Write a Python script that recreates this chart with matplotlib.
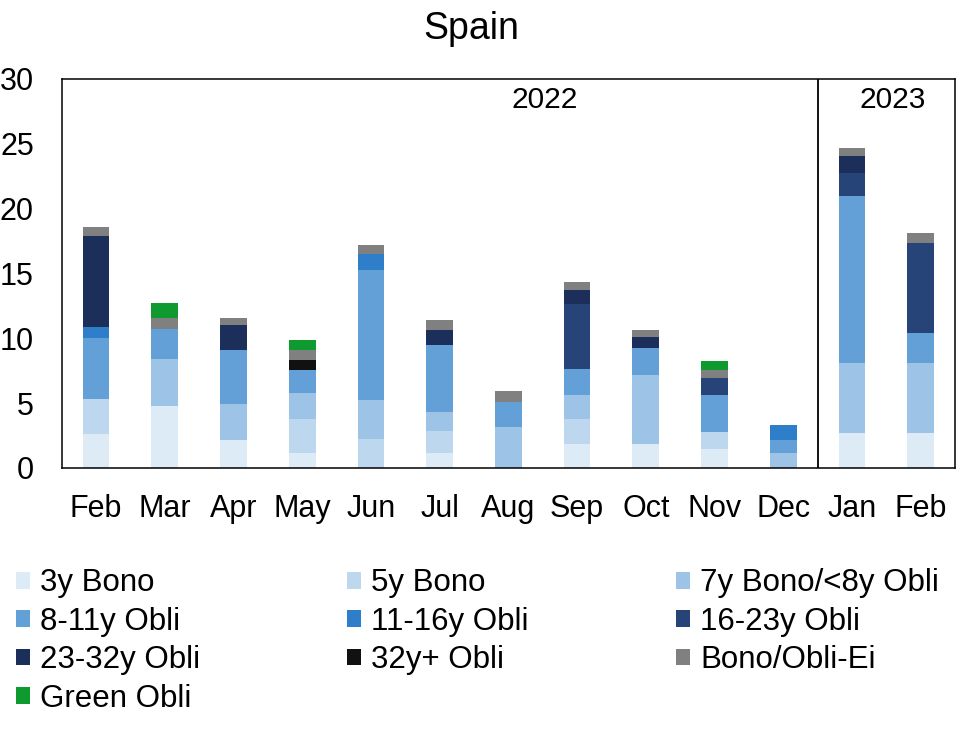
import matplotlib
matplotlib.use("Agg")
import matplotlib.pyplot as plt
import numpy as np

plt.rcParams["font.family"] = ["Liberation Sans", "DejaVu Sans"]

# Months (Feb 2022 .. Feb 2023)
months = ["Feb", "Mar", "Apr", "May", "Jun", "Jul", "Aug", "Sep", "Oct", "Nov", "Dec", "Jan", "Feb"]

# Issuance by bucket
bono3 = [2.6, 4.75, 2.15, 1.15, 0, 1.15, 0, 1.85, 1.85, 1.45, 0, 2.7, 2.7]
bono5 = [2.7, 0, 0, 2.6, 2.25, 1.7, 0, 1.9, 0, 1.3, 0, 0, 0]
bono7 = [0, 3.65, 2.75, 2.05, 2.95, 1.45, 3.15, 1.9, 5.35, 0, 1.15, 5.35, 5.35]
obli8_11 = [4.7, 2.3, 4.2, 1.75, 10.1, 5.2, 1.9, 2.0, 2.05, 2.9, 1.0, 12.95, 2.35]
obli11_16 = [0.9, 0, 0, 0, 1.2, 0, 0, 0, 0, 0, 1.15, 0, 0]
obli16_23 = [0, 0, 0, 0, 0, 0, 0, 5.0, 0, 1.3, 0, 1.75, 6.95]
obli23_32 = [6.95, 0, 1.9, 0, 0, 1.15, 0, 1.1, 0.85, 0, 0, 1.3, 0]
obli32 = [0, 0, 0, 0.8, 0, 0, 0, 0, 0, 0, 0, 0, 0]
ei = [0.7, 0.87, 0.55, 0.75, 0.7, 0.75, 0.85, 0.6, 0.55, 0.6, 0, 0.6, 0.75]
green = [0, 1.15, 0, 0.75, 0, 0, 0, 0, 0, 0.7, 0, 0, 0]

series = [
    ("3y Bono", bono3, "#DDEBF7"),
    ("5y Bono", bono5, "#BDD7EE"),
    ("7y Bono/<8y Obli", bono7, "#9DC3E6"),
    ("8-11y Obli", obli8_11, "#64A0D8"),
    ("11-16y Obli", obli11_16, "#2F7ECA"),
    ("16-23y Obli", obli16_23, "#264478"),
    ("23-32y Obli", obli23_32, "#1C2F5B"),
    ("32y+ Obli", obli32, "#111111"),
    ("Bono/Obli-Ei", ei, "#808080"),
    ("Green Obli", green, "#0E9A2E"),
]

fig = plt.figure(figsize=(9.8, 7.31), dpi=100)
ax = fig.add_axes([0.063, 0.36, 0.9115, 0.532])

x = np.arange(len(months))
bottom = np.zeros(len(months))
handles = []
for label, vals, color in series:
    vals = np.array(vals)
    b = ax.bar(x, vals, 0.39, bottom=bottom, color=color, label=label)
    handles.append(b)
    bottom += vals

# Year separator
ax.axvline(10.5, color="black", linewidth=1.3)
ax.text(6.53, 28.35, "2022", fontsize=21.5, ha="center", va="center")
ax.text(11.6, 28.35, "2023", fontsize=21.5, ha="center", va="center")

ax.set_xlim(-0.5, 12.5)
ax.set_ylim(0, 30)
ax.set_yticks([0, 5, 10, 15, 20, 25, 30])
ax.set_xticks(x)
ax.set_xticklabels(months)
ax.tick_params(axis="both", length=0, labelsize=22)
ax.tick_params(axis="y", pad=20)
ax.tick_params(axis="x", pad=19)
for s in ax.spines.values():
    s.set_linewidth(1.1)

fig.text(0.481, 0.96, "Spain", fontsize=27, ha="center", va="center")

# Legend: three columns, filled row by row
col_x = [16, 347, 676]
for c in range(3):
    idx = list(range(c, len(series), 3))
    fig.legend(
        [handles[i] for i in idx],
        [series[i][0] for i in idx],
        loc="upper left",
        bbox_to_anchor=(col_x[c] / 980, 0.2225),
        frameon=False,
        fontsize=22.5,
        handlelength=0.45,
        handleheight=0.45,
        handletextpad=0.32,
        labelspacing=0.27,
        borderpad=0,
        borderaxespad=0,
    )

fig.savefig("out.png", dpi=100)
